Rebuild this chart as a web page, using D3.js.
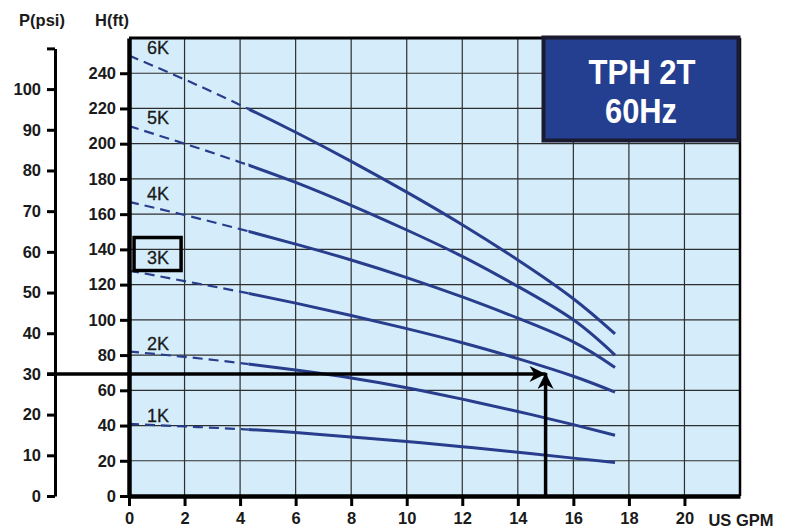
<!DOCTYPE html>
<html>
<head>
<meta charset="utf-8">
<script src="https://cdn.jsdelivr.net/npm/d3@7"></script>
<style>
  body { margin: 0; background: #fff; }
  svg { display: block; }
  .tick text { font-family: "Liberation Sans", Arial, sans-serif; font-weight: bold; font-size: 16.5px; fill: #1a1a1a; }
</style>
</head>
<body>
<svg id="chart"></svg>
<script>
// flow points (US GPM) where each curve was read
var flow = [0, 2, 4, 6, 8, 10, 12, 14, 16, 17.5]
// head (ft) of every model
var models = ['6K', '5K', '4K', '3K', '2K', '1K']
var head6K = [250, 236.5, 222, 206.5, 190, 172.5, 154, 134, 112, 92]
var head5K = [210, 200, 189.5, 178, 165, 151, 136, 119, 100, 80]
var head4K = [167, 159.5, 151.5, 143, 134, 124, 113, 101, 87.5, 73]
var head3K = [128, 122, 116, 109.5, 102.5, 95, 87, 78, 68, 59]
var head2K = [82, 79, 75.5, 71.5, 67, 61.5, 55, 48, 40.5, 34.5]
var head1K = [41, 39.5, 38, 36, 33.5, 31, 28, 24.8, 21.5, 19]
var heads = [head6K, head5K, head4K, head3K, head2K, head1K]
var dashedUpTo = 4.3      // curves are dashed below this flow
var boxedModel = '3K'
// duty point
var dutyFlow = 15
var dutyPsi = 30
var ftPerPsi = 2.31

var xTicks = [0, 2, 4, 6, 8, 10, 12, 14, 16, 18, 20]
var hTicks = [0, 20, 40, 60, 80, 100, 120, 140, 160, 180, 200, 220, 240]
var pTicks = [0, 10, 20, 30, 40, 50, 60, 70, 80, 90, 100, 110]

var screen = { width: 786, height: 529 }
var blue = '#283d8c'

var svg = d3.select('#chart')
  .attr('width', screen.width)
  .attr('height', screen.height)

var xScale = d3.scaleLinear().domain([0, 22]).range([129, 740])
var yScale = d3.scaleLinear().domain([0, 260]).range([496, 38])
var pScale = d3.scaleLinear()
  .domain([0, 110])
  .range([yScale(0), yScale(110 * ftPerPsi)])

var pLeft = xScale(0), pRight = xScale(22), pTop = yScale(260), pBottom = yScale(0)

// plot background
svg.append('rect')
  .attr('x', pLeft).attr('y', pTop)
  .attr('width', pRight - pLeft).attr('height', pBottom - pTop)
  .attr('fill', '#d5edfa')

// grid
svg.append('g').selectAll('line')
  .data(d3.range(2, 22, 2))
  .enter().append('line')
  .attr('x1', function(d){ return xScale(d) }).attr('x2', function(d){ return xScale(d) })
  .attr('y1', pTop).attr('y2', pBottom)
  .attr('stroke', '#2e2e2e').attr('stroke-width', 1.2)
svg.append('g').selectAll('line')
  .data(hTicks.slice(1))
  .enter().append('line')
  .attr('x1', pLeft).attr('x2', pRight)
  .attr('y1', function(d){ return yScale(d) }).attr('y2', function(d){ return yScale(d) })
  .attr('stroke', '#2e2e2e').attr('stroke-width', 1.2)

// clip regions for dashed / solid parts
var defs = svg.append('defs')
defs.append('clipPath').attr('id', 'clipDash').append('rect')
  .attr('x', pLeft).attr('y', pTop).attr('width', xScale(dashedUpTo) - pLeft).attr('height', pBottom - pTop)
defs.append('clipPath').attr('id', 'clipSolid').append('rect')
  .attr('x', xScale(dashedUpTo)).attr('y', pTop).attr('width', pRight - xScale(dashedUpTo)).attr('height', pBottom - pTop)

var line = d3.line()
  .x(function(d){ return xScale(d[0]) })
  .y(function(d){ return yScale(d[1]) })
  .curve(d3.curveNatural)

var curves = svg.append('g')
heads.forEach(function(h, i){
  var pts = flow.map(function(f, j){ return [f, h[j]] })
  curves.append('path')
    .attr('d', line(pts))
    .attr('clip-path', 'url(#clipDash)')
    .attr('fill', 'none').attr('stroke', blue)
    .attr('stroke-width', 2.2).attr('stroke-dasharray', '10,6')
  curves.append('path')
    .attr('d', line(pts))
    .attr('clip-path', 'url(#clipSolid)')
    .attr('fill', 'none').attr('stroke', blue)
    .attr('stroke-width', 3)
})

// model labels
models.forEach(function(m, i){
  var boxed = (m == boxedModel)
  var t = svg.append('text')
    .attr('x', xScale(0.65))
    .attr('y', yScale(heads[i][0]) - (boxed ? 7 : 2))
    .attr('font-family', '"Liberation Sans", Arial, sans-serif')
    .attr('font-size', 18)
    .attr('fill', '#1a1a1a')
    .attr('stroke', '#1a1a1a').attr('stroke-width', 0.3)
    .text(m)
  if (boxed) {
    var b = t.node().getBBox()
    svg.append('rect')
      .attr('x', b.x - 13).attr('y', b.y - 10)
      .attr('width', b.width + 25).attr('height', b.height + 13)
      .attr('fill', 'none').attr('stroke', '#000').attr('stroke-width', 3.5)
  }
})

// duty point arrows
defs.append('marker').attr('id', 'arrow')
  .attr('viewBox', '0 0 10 10').attr('refX', 10).attr('refY', 5)
  .attr('markerWidth', 4.6).attr('markerHeight', 4.6).attr('markerUnits', 'strokeWidth')
  .attr('orient', 'auto')
  .append('path').attr('d', 'M0,0 L10,5 L0,10 L3,5 Z').attr('fill', '#000')

var dutyY = pScale(dutyPsi)
svg.append('line')
  .attr('x1', 47).attr('x2', xScale(dutyFlow))
  .attr('y1', dutyY).attr('y2', dutyY)
  .attr('stroke', '#000').attr('stroke-width', 3.5)
  .attr('marker-end', 'url(#arrow)')
svg.append('line')
  .attr('x1', xScale(dutyFlow)).attr('x2', xScale(dutyFlow))
  .attr('y1', pBottom).attr('y2', dutyY - 1)
  .attr('stroke', '#000').attr('stroke-width', 3.5)
  .attr('marker-end', 'url(#arrow)')

// plot frame
svg.append('line').attr('x1', pLeft).attr('x2', pRight).attr('y1', pTop).attr('y2', pTop)
  .attr('stroke', '#000').attr('stroke-width', 3)
svg.append('line').attr('x1', pRight).attr('x2', pRight).attr('y1', pTop).attr('y2', pBottom)
  .attr('stroke', '#000').attr('stroke-width', 2.5)

// axes
var hAxis = svg.append('g')
  .attr('transform', 'translate(' + pLeft + ',0)')
  .call(d3.axisLeft(yScale).tickValues(hTicks).tickSize(9).tickPadding(4).tickSizeOuter(0))
hAxis.select('.domain').attr('stroke-width', 4.5)
hAxis.selectAll('.tick line').attr('stroke-width', 3)

var xAxis = svg.append('g')
  .attr('transform', 'translate(0,' + pBottom + ')')
  .call(d3.axisBottom(xScale).tickValues(xTicks).tickSize(10).tickPadding(6).tickSizeOuter(0))
xAxis.select('.domain').attr('stroke-width', 4.5)
xAxis.selectAll('.tick line').attr('stroke-width', 3)

var pAxis = svg.append('g')
  .attr('transform', 'translate(55,0)')
  .call(d3.axisLeft(pScale).tickValues(pTicks).tickSize(8).tickPadding(6).tickSizeOuter(0)
    .tickFormat(function(d){ return d == 110 ? '' : d }))
pAxis.select('.domain').attr('stroke-width', 3)
pAxis.selectAll('.tick line').attr('stroke-width', 3)

// axis titles
var titleFont = '"Liberation Sans", Arial, sans-serif'
svg.append('text').attr('x', 42).attr('y', 26).attr('text-anchor', 'middle')
  .attr('font-family', titleFont).attr('font-weight', 'bold').attr('font-size', 16.5)
  .attr('fill', '#1a1a1a').text('P(psi)')
svg.append('text').attr('x', 112).attr('y', 26).attr('text-anchor', 'middle')
  .attr('font-family', titleFont).attr('font-weight', 'bold').attr('font-size', 16.5)
  .attr('fill', '#1a1a1a').text('H(ft)')
svg.append('text').attr('x', 741).attr('y', 526).attr('text-anchor', 'middle')
  .attr('font-family', titleFont).attr('font-weight', 'bold').attr('font-size', 16.5)
  .attr('fill', '#1a1a1a').text('US GPM')

// model name box
svg.append('rect')
  .attr('x', 543.5).attr('y', 37.5).attr('width', 195).attr('height', 103)
  .attr('fill', '#253f90').attr('stroke', '#1a1a30').attr('stroke-width', 4)
svg.append('text').attr('x', 642).attr('y', 84).attr('text-anchor', 'middle')
  .attr('font-family', titleFont).attr('font-weight', 'bold').attr('font-size', 35)
  .attr('textLength', 107).attr('lengthAdjust', 'spacingAndGlyphs')
  .attr('fill', '#fff').text('TPH 2T')
svg.append('text').attr('x', 641).attr('y', 123).attr('text-anchor', 'middle')
  .attr('font-family', titleFont).attr('font-weight', 'bold').attr('font-size', 35)
  .attr('textLength', 72).attr('lengthAdjust', 'spacingAndGlyphs')
  .attr('fill', '#fff').text('60Hz')
</script>
</body>
</html>
